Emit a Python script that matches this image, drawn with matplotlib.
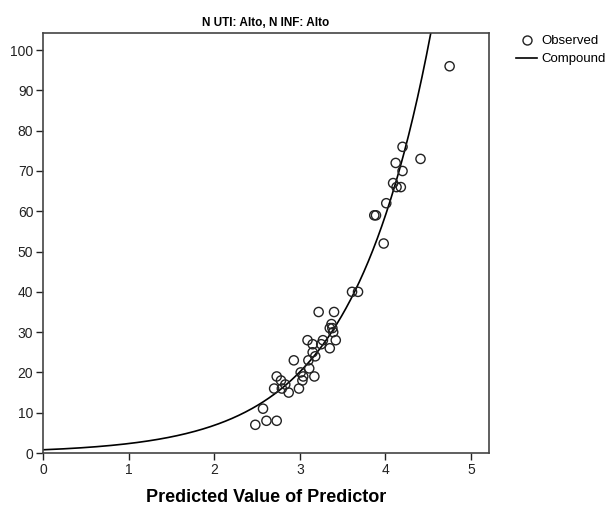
import numpy as np
import matplotlib
matplotlib.use('Agg')
import matplotlib.pyplot as plt
from matplotlib.lines import Line2D

plt.rcParams['font.family'] = ['Liberation Sans', 'DejaVu Sans']

# observed points (predicted value, observed)
obs_x = [4.75, 4.41, 4.20, 4.12, 4.20, 4.09, 4.13, 4.18, 4.01, 3.87, 3.89, 3.98,
         3.61, 3.68, 3.22, 3.40, 3.37, 3.35, 3.38, 3.39, 3.27, 3.42, 3.35, 3.25,
         3.09, 3.15, 3.15, 3.18, 3.10, 2.93, 3.11, 3.01, 3.04, 3.17, 3.03, 2.99,
         2.73, 2.78, 2.83, 2.70, 2.79, 2.87, 2.57, 2.48, 2.61, 2.73]
obs_y = [96, 73, 76, 72, 70, 67, 66, 66, 62, 59, 59, 52,
         40, 40, 35, 35, 32, 31, 31, 30, 28, 28, 26, 27,
         28, 27, 25, 24, 23, 23, 21, 20, 19, 19, 18, 16,
         19, 18, 17, 16, 16, 15, 11, 7, 8, 8]

# compound model y = b0 * b1^x
b0 = 0.8
b1 = 2.93

fig = plt.figure(figsize=(6.12, 5.11), dpi=100)
ax = fig.add_axes([0.0703, 0.1135, 0.7287, 0.8215])

xs = np.linspace(0, 5.21, 400)
ax.plot(xs, b0 * b1 ** xs, color='black', linewidth=1.2)
ax.scatter(obs_x, obs_y, s=44, facecolors='none', edgecolors='#222222', linewidths=1.0, zorder=3)

ax.set_xlim(0, 5.21)
ax.set_ylim(0, 104.2)
ax.set_xticks(range(0, 6))
ax.set_yticks(range(0, 101, 10))
ax.tick_params(direction='out', length=5, width=1, labelsize=10, colors='#222222', pad=2)
for sp in ax.spines.values():
    sp.set_color('#444444')
    sp.set_linewidth(1.2)

ax.set_title('N UTI: Alto, N INF: Alto', fontsize=8.5, fontweight='bold', pad=5)
ax.set_xlabel('Predicted Value of Predictor', fontsize=13, fontweight='bold', labelpad=9)

handles = [Line2D([], [], marker='o', linestyle='none', markerfacecolor='none',
                  markeredgecolor='#222222', markersize=6.5),
           Line2D([], [], color='black', linewidth=1.2)]
fig.legend(handles, ['Observed', 'Compound'], loc='upper left', bbox_to_anchor=(0.835, 0.942),
           frameon=False, fontsize=9.5, handlelength=1.6, handletextpad=0.3,
           labelspacing=0.45, borderaxespad=0)

fig.savefig('out.png', dpi=100)
